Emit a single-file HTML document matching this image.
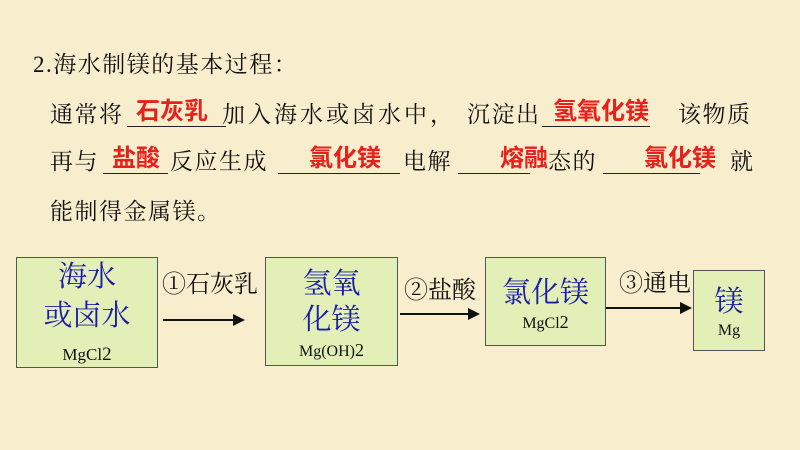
<!DOCTYPE html>
<html><head><meta charset="utf-8"><style>
body{margin:0;width:800px;height:450px;overflow:hidden;background:#f8edcc;position:relative;font-family:"Liberation Serif","Noto Serif CJK SC","Noto Sans CJK SC",serif;}
.t{position:absolute;font-size:23px;color:#111;white-space:nowrap;line-height:26px;letter-spacing:1.5px}
.r{position:absolute;font-family:"Liberation Sans","Noto Sans CJK SC",sans-serif;font-weight:bold;color:#e8201c;font-size:24px;line-height:26px;white-space:nowrap}
.u{position:absolute;border-bottom:1.5px solid #222;height:0}
.b{position:absolute;background:#e2efb6;border:1.5px solid #555;box-sizing:border-box}
.bl{position:absolute;color:#1c1ca8;font-family:"Noto Serif CJK SC",serif;font-size:29px;line-height:32px;white-space:nowrap;text-align:center}
.f{position:absolute;font-family:"Liberation Serif",serif;font-size:16px;color:#111;white-space:nowrap;text-align:center}
.a{position:absolute;height:2px;background:#111}
.ah{position:absolute;width:0;height:0;border-top:6px solid transparent;border-bottom:6px solid transparent;border-left:12px solid #111}
</style></head><body>
<div class="t" style="left:33px;top:52px;font-size:23px">2.海水制镁的基本过程：</div>

<div class="t" style="left:50px;top:102px">通常将</div>
<div class="u" style="left:127px;width:99px;top:126px"></div>
<div class="r" style="left:136px;top:99px">石灰乳</div>
<div class="t" style="left:222px;top:102px;letter-spacing:3px">加入海水或卤水中，</div>
<div class="t" style="left:467px;top:102px">沉淀出</div>
<div class="u" style="left:542px;width:108px;top:126px"></div>
<div class="r" style="left:553px;top:99px">氢氧化镁</div>
<div class="t" style="left:678px;top:102px">该物质</div>

<div class="t" style="left:50px;top:149px">再与</div>
<div class="u" style="left:103px;width:65px;top:173px"></div>
<div class="r" style="left:112px;top:146px">盐酸</div>
<div class="t" style="left:170px;top:149px">反应生成</div>
<div class="u" style="left:278px;width:122px;top:173px"></div>
<div class="r" style="left:309px;top:146px">氯化镁</div>
<div class="t" style="left:403px;top:149px">电解</div>
<div class="u" style="left:458px;width:72px;top:173px"></div>
<div class="r" style="left:500px;top:146px">熔融</div>
<div class="t" style="left:548px;top:149px">态的</div>
<div class="u" style="left:603px;width:97px;top:173px"></div>
<div class="r" style="left:644px;top:146px">氯化镁</div>
<div class="t" style="left:730px;top:149px">就</div>

<div class="t" style="left:50px;top:199px">能制得金属镁。</div>

<div class="b" style="left:16px;top:257px;width:142px;height:111px"></div>
<div class="bl" style="left:16px;width:142px;top:259px">海水</div>
<div class="bl" style="left:16px;width:142px;top:298px">或卤水</div>
<div class="f" style="left:16px;width:142px;top:344px;font-size:17px">MgCl<span style="font-size:19px">2</span></div>

<div class="b" style="left:265px;top:257px;width:133px;height:109px"></div>
<div class="bl" style="left:265px;width:133px;top:266px">氢氧</div>
<div class="bl" style="left:265px;width:133px;top:302px">化镁</div>
<div class="f" style="left:265px;width:133px;top:340px">Mg(OH)<span style="font-size:18px">2</span></div>

<div class="b" style="left:485px;top:257px;width:121px;height:89px"></div>
<div class="bl" style="left:485px;width:121px;top:275px">氯化镁</div>
<div class="f" style="left:485px;width:121px;top:312px">MgCl<span style="font-size:18px">2</span></div>

<div class="b" style="left:693px;top:270px;width:72px;height:81px"></div>
<div class="bl" style="left:693px;width:72px;top:284px">镁</div>
<div class="f" style="left:693px;width:72px;top:322px">Mg</div>

<div class="t" style="left:162px;top:272px;font-size:24px;letter-spacing:0">①石灰乳</div>
<div class="a" style="left:163px;top:319px;width:72px"></div><div class="ah" style="left:233px;top:314px"></div>
<div class="t" style="left:404px;top:278px;font-size:24px;letter-spacing:0">②盐酸</div>
<div class="a" style="left:400px;top:313px;width:70px"></div><div class="ah" style="left:468px;top:308px"></div>
<div class="t" style="left:619px;top:271px;font-size:24px;letter-spacing:0">③通电</div>
<div class="a" style="left:606px;top:307px;width:76px"></div><div class="ah" style="left:680px;top:302px"></div>
</body></html>
